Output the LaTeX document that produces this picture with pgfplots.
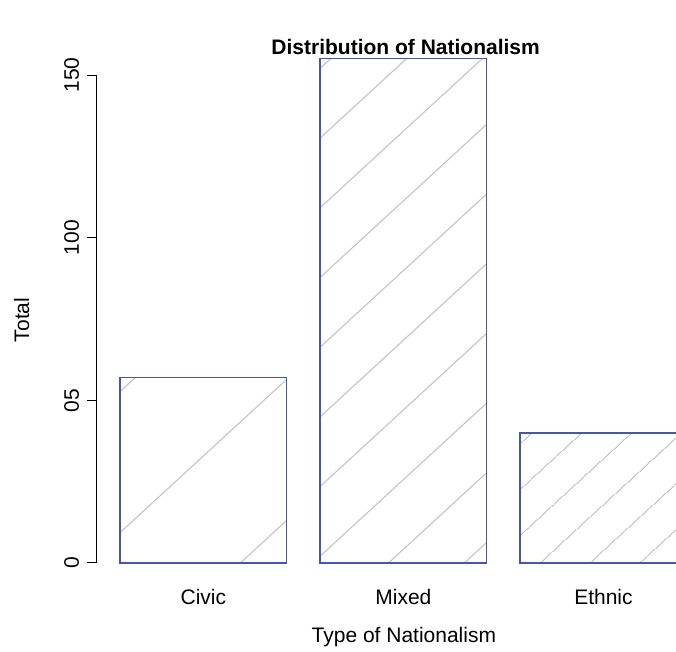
\documentclass[border=0pt]{standalone}
\usepackage{fontspec}
\setmainfont{Liberation Sans}
\usepackage{pgfplots}
\pgfplotsset{compat=1.18}
\usetikzlibrary{patterns.meta}
\definecolor{barblue}{RGB}{66,86,178}
\definecolor{hatch}{RGB}{195,195,195}
\newcommand{\cf}{\fontsize{21bp}{25bp}\selectfont}
\begin{document}
\begin{tikzpicture}
\useasboundingbox (-97bp,-69bp) rectangle (579bp,583bp);
\begin{axis}[
  at={(0,0)}, anchor=south west,
  scale only axis, width=579bp, height=545bp,
  xmin=0.062, xmax=3.535, ymin=-6.15, ymax=161.4,
  axis line style={draw=none},
  clip=false,
  xtick={0.7,1.9,3.1}, xticklabels={Civic,Mixed,Ethnic},
  x tick style={draw=none},
  ytick={0,50,100,150}, yticklabels={0,05,100,150},
  ytick pos=left, xtick pos=bottom,
  tick align=outside, major tick length=10bp,
  y tick style={black, line width=1bp},
  tick label style={font=\cf},
  yticklabel style={rotate=90, anchor=base},
  yticklabel shift=8bp,
  xticklabel style={anchor=base, yshift=-11.5bp},
  title={Distribution of Nationalism},
  title style={at={(0.533,0.9587)}, anchor=base, font=\cf\bfseries},
  xlabel={Type of Nationalism},
  xlabel style={at={(0.530,-0.109)}, anchor=base, font=\cf},
  ylabel={Total},
  ylabel style={at={(-0.1304,0.4826)}, anchor=center, font=\cf},
]
\addplot[ybar, bar width=1, bar shift=0, draw=barblue, line width=1.3bp,
  pattern={Lines[angle=42.6, distance=103.8bp, line width=1.1bp, yshift=9bp]}, pattern color=hatch]
  coordinates {(0.7,57)};
\addplot[ybar, bar width=1, bar shift=0, draw=barblue, line width=1.3bp,
  pattern={Lines[angle=42.6, distance=51.3bp, line width=1.1bp, yshift=10.5bp]}, pattern color=hatch]
  coordinates {(1.9,155)};
\addplot[ybar, bar width=1, bar shift=0, draw=barblue, line width=1.3bp,
  pattern={Lines[angle=42.6, distance=34.4bp, line width=1.1bp, yshift=16bp]}, pattern color=hatch]
  coordinates {(3.1,40)};
\draw[black, line width=1bp] (axis cs:0.062,0) -- (axis cs:0.062,150);
\end{axis}
\end{tikzpicture}
\end{document}
